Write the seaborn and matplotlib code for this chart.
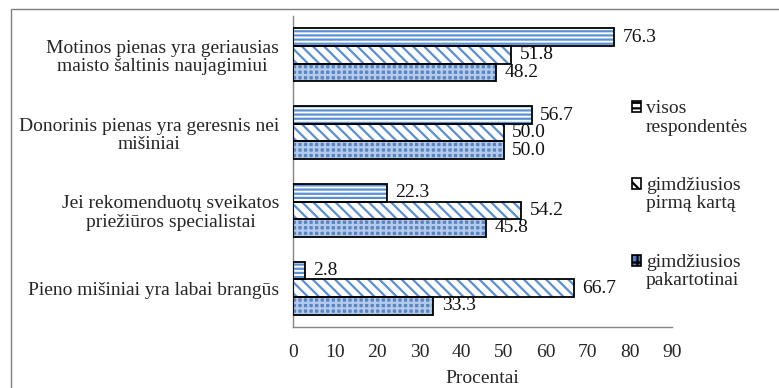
import matplotlib
matplotlib.use("Agg")
import matplotlib.pyplot as plt
from matplotlib.patches import Rectangle, Patch
from matplotlib.legend_handler import HandlerPatch
import seaborn as sns
import pandas as pd

categories = [
    "Motinos pienas yra geriausias\nmaisto šaltinis naujagimiui",
    "Donorinis pienas yra geresnis nei\nmišiniai",
    "Jei rekomenduotų sveikatos\npriežiūros specialistai",
    "Pieno mišiniai yra labai brangūs",
]
series_names = ["visos\nrespondentės", "gimdžiusios\npirmą kartą", "gimdžiusios\npakartotinai"]
visos = [76.3, 56.7, 22.3, 2.8]
pirma = [51.8, 50.0, 54.2, 66.7]
pakartotinai = [48.2, 50.0, 45.8, 33.3]
xticks = [0, 10, 20, 30, 40, 50, 60, 70, 80, 90]
xlabel = "Procentai"

FS = 14
sns.set_style("white")
plt.rcParams["font.family"] = ["Liberation Serif", "DejaVu Serif"]
plt.rcParams["hatch.linewidth"] = 1.6

rows = []
for name, vals in zip(series_names, [visos, pirma, pakartotinai]):
    for c, v in zip(categories, vals):
        rows.append({"cat": c, "group": name, "val": v})
df = pd.DataFrame(rows)

face = {series_names[0]: "white", series_names[1]: "white", series_names[2]: "#4a82d0"}
hatch_col = ["#5b8fd4", "#5b8fd4", "#b4cbee"]
hatches = ["----", "\\\\\\", "+++"]

fig = plt.figure(figsize=(7.79, 3.88), dpi=100)
ax = fig.add_axes([293 / 779, 1 - 327 / 388, (672 - 293) / 779, (327 - 16) / 388])

sns.barplot(data=df, y="cat", x="val", hue="group", hue_order=series_names,
            order=categories, palette=face, width=0.68, linewidth=0,
            legend=False, ax=ax)

for cont, h, hc in zip(ax.containers, hatches, hatch_col):
    for p in cont:
        p.set_hatch(h)
        p.set_edgecolor(hc)
        p.set_linewidth(0)

for p in list(ax.patches):
    ax.add_patch(Rectangle(p.get_xy(), p.get_width(), p.get_height(),
                           facecolor="none", edgecolor="black", linewidth=1.3, zorder=3))

for cont in ax.containers:
    ax.bar_label(cont, fmt="%.1f", padding=6, fontsize=FS, color="#111111")

ax.set_xlim(0, 90)
ax.set_ylim(3.5, -0.5)
ax.set_xticks(xticks)
ax.set_xticklabels([str(t) for t in xticks], fontsize=FS)
ax.set_xlabel(xlabel, fontsize=FS, labelpad=7)
ax.set_ylabel("")
ax.set_yticks(range(len(categories)))
ax.set_yticklabels(categories, fontsize=FS)
for t in ax.get_yticklabels():
    t.set_multialignment("center")
    t.set_linespacing(1.12)
ax.set_yticks([-0.5, 0.5, 1.5, 2.5, 3.5], minor=True)
ax.tick_params(axis="y", which="major", length=0, pad=10)
ax.tick_params(axis="y", which="minor", length=5, width=1, color="#868686", direction="out")
ax.tick_params(axis="x", which="major", length=5, width=1, color="#868686", direction="out", pad=7)
for s in ["top", "right"]:
    ax.spines[s].set_visible(False)
for s in ["left", "bottom"]:
    ax.spines[s].set_color("#868686")
    ax.spines[s].set_linewidth(1)


def shifted_box(legend, orig_handle, xdescent, ydescent, width, height, fontsize):
    return Rectangle((-xdescent, -ydescent + 0.55 * fontsize), width, height)


handles = [Patch(facecolor=face[n], edgecolor="black", hatch=h, linewidth=1.2)
           for n, h in zip(series_names, ["---", "\\\\", "++"])]
leg = fig.legend(handles=handles, labels=series_names, loc="upper left",
                 bbox_to_anchor=(614 / 779, 1 - 83 / 388), frameon=False,
                 fontsize=FS, handlelength=0.5, handleheight=0.5,
                 handletextpad=0.25, labelspacing=2.15,
                 handler_map={Patch: HandlerPatch(patch_func=shifted_box)})
for t in leg.get_texts():
    t.set_linespacing(1.08)

fig.patches.append(Rectangle((11 / 779, -0.02), 1.1, 1 - 9 / 388 + 0.02,
                             transform=fig.transFigure, facecolor="none",
                             edgecolor="#7f7f7f", linewidth=1, zorder=-1))

fig.savefig("out.png", dpi=100)
